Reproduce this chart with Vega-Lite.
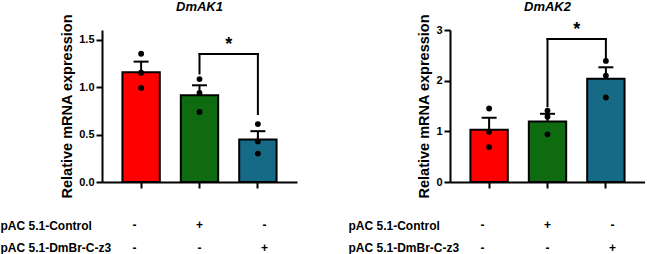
{
  "$schema": "https://vega.github.io/schema/vega-lite/v6.json",
  "padding": 0,
  "background": "white",
  "datasets": {
    "pts": [
      {"gene": "DmAK1", "g": "WT", "value": 1.35},
      {"gene": "DmAK1", "g": "WT", "value": 1.15},
      {"gene": "DmAK1", "g": "WT", "value": 0.99},
      {"gene": "DmAK1", "g": "Ctrl", "value": 1.083},
      {"gene": "DmAK1", "g": "Ctrl", "value": 0.939},
      {"gene": "DmAK1", "g": "Ctrl", "value": 0.738},
      {"gene": "DmAK1", "g": "DmBr", "value": 0.61},
      {"gene": "DmAK1", "g": "DmBr", "value": 0.427},
      {"gene": "DmAK1", "g": "DmBr", "value": 0.299},
      {"gene": "DmAK2", "g": "WT", "value": 1.45},
      {"gene": "DmAK2", "g": "WT", "value": 0.99},
      {"gene": "DmAK2", "g": "WT", "value": 0.69},
      {"gene": "DmAK2", "g": "Ctrl", "value": 1.41},
      {"gene": "DmAK2", "g": "Ctrl", "value": 1.29},
      {"gene": "DmAK2", "g": "Ctrl", "value": 0.94},
      {"gene": "DmAK2", "g": "DmBr", "value": 2.39},
      {"gene": "DmAK2", "g": "DmBr", "value": 2.1},
      {"gene": "DmAK2", "g": "DmBr", "value": 1.667}
    ],
    "bars": [
      {"gene": "DmAK1", "g": "WT", "mean": 1.155, "upper": 1.267},
      {"gene": "DmAK1", "g": "Ctrl", "mean": 0.912, "upper": 1.018},
      {"gene": "DmAK1", "g": "DmBr", "mean": 0.447, "upper": 0.535},
      {"gene": "DmAK2", "g": "WT", "mean": 1.03, "upper": 1.268},
      {"gene": "DmAK2", "g": "Ctrl", "mean": 1.195, "upper": 1.346},
      {"gene": "DmAK2", "g": "DmBr", "mean": 2.04, "upper": 2.264}
    ],
    "sig": [
      {"gene": "DmAK1", "from": "Ctrl", "to": "DmBr", "top": 1.348, "b1": 1.142, "b2": 0.716, "label": "*"},
      {"gene": "DmAK2", "from": "Ctrl", "to": "DmBr", "top": 2.82, "b1": 1.496, "b2": 2.395, "label": "*"}
    ],
    "table": [
      {"row": "pAC 5.1-Control", "g": "WT", "s": "-"},
      {"row": "pAC 5.1-Control", "g": "Ctrl", "s": "+"},
      {"row": "pAC 5.1-Control", "g": "DmBr", "s": "-"},
      {"row": "pAC 5.1-DmBr-C-z3", "g": "WT", "s": "-"},
      {"row": "pAC 5.1-DmBr-C-z3", "g": "Ctrl", "s": "-"},
      {"row": "pAC 5.1-DmBr-C-z3", "g": "DmBr", "s": "+"}
    ]
  },
  "spacing": 51,
  "hconcat": [
    {
      "spacing": 20,
      "vconcat": [
        {
          "width": 195,
          "height": 152,
          "title": {"text": "DmAK1", "fontStyle": "italic", "fontWeight": "bold", "fontSize": 13, "frame": "group", "anchor": "middle", "offset": 0, "color": "black"},
          "layer": [
            {
              "data": {"name": "bars"},
              "transform": [{"filter": "datum.gene === 'DmAK1'"}],
              "mark": {"type": "bar", "stroke": "black", "strokeWidth": 2, "opacity": 1},
              "encoding": {
                "x": {"field": "g", "type": "nominal", "scale": {"domain": ["WT", "Ctrl", "DmBr"], "paddingInner": 0.36, "paddingOuter": 0.35}, "axis": {"labels": false, "title": null}},
                "y": {"field": "mean", "type": "quantitative", "title": "Relative mRNA expression", "scale": {"domain": [0, 1.5]}, "axis": {"values": [0, 0.5, 1, 1.5], "format": ".1f"}},
                "color": {"field": "g", "type": "nominal", "scale": {"domain": ["WT", "Ctrl", "DmBr"], "range": ["#ff0000", "#0f6b0f", "#166a86"]}, "legend": null}
              }
            },
            {
              "data": {"name": "bars"},
              "transform": [{"filter": "datum.gene === 'DmAK1'"}],
              "mark": {"type": "rule", "strokeWidth": 2, "color": "black"},
              "encoding": {
                "x": {"field": "g", "type": "nominal"},
                "y": {"field": "mean", "type": "quantitative", "title": "Relative mRNA expression"},
                "y2": {"field": "upper"}
              }
            },
            {
              "data": {"name": "bars"},
              "transform": [{"filter": "datum.gene === 'DmAK1'"}],
              "mark": {"type": "tick", "orient": "horizontal", "thickness": 2, "size": 15, "color": "black", "opacity": 1},
              "encoding": {
                "x": {"field": "g", "type": "nominal"},
                "y": {"field": "upper", "type": "quantitative", "title": "Relative mRNA expression"}
              }
            },
            {
              "data": {"name": "pts"},
              "transform": [{"filter": "datum.gene === 'DmAK1'"}],
              "mark": {"type": "circle", "size": 34, "color": "black", "opacity": 1},
              "encoding": {
                "x": {"field": "g", "type": "nominal"},
                "y": {"field": "value", "type": "quantitative", "title": "Relative mRNA expression"}
              }
            },
            {
              "data": {"name": "sig"},
              "transform": [{"filter": "datum.gene === 'DmAK1'"}],
              "mark": {"type": "rule", "strokeWidth": 2, "color": "black", "strokeCap": "square"},
              "encoding": {
                "x": {"field": "from", "type": "nominal"},
                "y": {"field": "top", "type": "quantitative", "title": "Relative mRNA expression"},
                "y2": {"field": "b1"}
              }
            },
            {
              "data": {"name": "sig"},
              "transform": [{"filter": "datum.gene === 'DmAK1'"}],
              "mark": {"type": "rule", "strokeWidth": 2, "color": "black", "strokeCap": "square"},
              "encoding": {
                "x": {"field": "to", "type": "nominal"},
                "y": {"field": "top", "type": "quantitative", "title": "Relative mRNA expression"},
                "y2": {"field": "b2"}
              }
            },
            {
              "data": {"name": "sig"},
              "transform": [{"filter": "datum.gene === 'DmAK1'"}],
              "mark": {"type": "rule", "strokeWidth": 2, "color": "black", "strokeCap": "square"},
              "encoding": {
                "x": {"field": "from", "type": "nominal"},
                "x2": {"field": "to"},
                "y": {"field": "top", "type": "quantitative", "title": "Relative mRNA expression"}
              }
            },
            {
              "data": {"name": "sig"},
              "transform": [{"filter": "datum.gene === 'DmAK1'"}],
              "mark": {"type": "text", "fontSize": 18, "fontWeight": "bold", "baseline": "bottom", "align": "center", "color": "black"},
              "encoding": {
                "x": {"field": "from", "type": "nominal", "bandPosition": 1.28},
                "y": {"field": "top", "type": "quantitative", "title": "Relative mRNA expression"},
                "text": {"field": "label"}
              }
            }
          ]
        },
        {
          "width": 195,
          "height": 22.5,
          "data": {"name": "table"},
          "mark": {"type": "text", "fontWeight": "bold", "fontSize": 12, "color": "black"},
          "encoding": {
            "x": {"field": "g", "type": "nominal", "scale": {"domain": ["WT", "Ctrl", "DmBr"], "paddingInner": 0.36, "paddingOuter": 0.35}, "axis": null},
            "y": {"field": "row", "type": "nominal", "scale": {"type": "point", "padding": 0, "domain": ["pAC 5.1-Control", "pAC 5.1-DmBr-C-z3"]}, "axis": {"domain": false, "ticks": false, "tickSize": 0, "labelAlign": "left", "labelPadding": 102, "labelFontSize": 12, "labelFontWeight": "bold", "labelBaseline": "middle", "title": null}},
            "text": {"field": "s"}
          }
        }
      ]
    },
    {
      "spacing": 20,
      "vconcat": [
        {
          "width": 195,
          "height": 152,
          "title": {"text": "DmAK2", "fontStyle": "italic", "fontWeight": "bold", "fontSize": 13, "frame": "group", "anchor": "middle", "offset": 0, "color": "black"},
          "layer": [
            {
              "data": {"name": "bars"},
              "transform": [{"filter": "datum.gene === 'DmAK2'"}],
              "mark": {"type": "bar", "stroke": "black", "strokeWidth": 2, "opacity": 1},
              "encoding": {
                "x": {"field": "g", "type": "nominal", "scale": {"domain": ["WT", "Ctrl", "DmBr"], "paddingInner": 0.36, "paddingOuter": 0.35}, "axis": {"labels": false, "title": null}},
                "y": {"field": "mean", "type": "quantitative", "title": "Relative mRNA expression", "scale": {"domain": [0, 3]}, "axis": {"values": [0, 1, 2, 3], "format": "d"}},
                "color": {"field": "g", "type": "nominal", "scale": {"domain": ["WT", "Ctrl", "DmBr"], "range": ["#ff0000", "#0f6b0f", "#166a86"]}, "legend": null}
              }
            },
            {
              "data": {"name": "bars"},
              "transform": [{"filter": "datum.gene === 'DmAK2'"}],
              "mark": {"type": "rule", "strokeWidth": 2, "color": "black"},
              "encoding": {
                "x": {"field": "g", "type": "nominal"},
                "y": {"field": "mean", "type": "quantitative", "title": "Relative mRNA expression"},
                "y2": {"field": "upper"}
              }
            },
            {
              "data": {"name": "bars"},
              "transform": [{"filter": "datum.gene === 'DmAK2'"}],
              "mark": {"type": "tick", "orient": "horizontal", "thickness": 2, "size": 15, "color": "black", "opacity": 1},
              "encoding": {
                "x": {"field": "g", "type": "nominal"},
                "y": {"field": "upper", "type": "quantitative", "title": "Relative mRNA expression"}
              }
            },
            {
              "data": {"name": "pts"},
              "transform": [{"filter": "datum.gene === 'DmAK2'"}],
              "mark": {"type": "circle", "size": 34, "color": "black", "opacity": 1},
              "encoding": {
                "x": {"field": "g", "type": "nominal"},
                "y": {"field": "value", "type": "quantitative", "title": "Relative mRNA expression"}
              }
            },
            {
              "data": {"name": "sig"},
              "transform": [{"filter": "datum.gene === 'DmAK2'"}],
              "mark": {"type": "rule", "strokeWidth": 2, "color": "black", "strokeCap": "square"},
              "encoding": {
                "x": {"field": "from", "type": "nominal"},
                "y": {"field": "top", "type": "quantitative", "title": "Relative mRNA expression"},
                "y2": {"field": "b1"}
              }
            },
            {
              "data": {"name": "sig"},
              "transform": [{"filter": "datum.gene === 'DmAK2'"}],
              "mark": {"type": "rule", "strokeWidth": 2, "color": "black", "strokeCap": "square"},
              "encoding": {
                "x": {"field": "to", "type": "nominal"},
                "y": {"field": "top", "type": "quantitative", "title": "Relative mRNA expression"},
                "y2": {"field": "b2"}
              }
            },
            {
              "data": {"name": "sig"},
              "transform": [{"filter": "datum.gene === 'DmAK2'"}],
              "mark": {"type": "rule", "strokeWidth": 2, "color": "black", "strokeCap": "square"},
              "encoding": {
                "x": {"field": "from", "type": "nominal"},
                "x2": {"field": "to"},
                "y": {"field": "top", "type": "quantitative", "title": "Relative mRNA expression"}
              }
            },
            {
              "data": {"name": "sig"},
              "transform": [{"filter": "datum.gene === 'DmAK2'"}],
              "mark": {"type": "text", "fontSize": 18, "fontWeight": "bold", "baseline": "bottom", "align": "center", "color": "black"},
              "encoding": {
                "x": {"field": "from", "type": "nominal", "bandPosition": 1.28},
                "y": {"field": "top", "type": "quantitative", "title": "Relative mRNA expression"},
                "text": {"field": "label"}
              }
            }
          ]
        },
        {
          "width": 195,
          "height": 22.5,
          "data": {"name": "table"},
          "mark": {"type": "text", "fontWeight": "bold", "fontSize": 12, "color": "black"},
          "encoding": {
            "x": {"field": "g", "type": "nominal", "scale": {"domain": ["WT", "Ctrl", "DmBr"], "paddingInner": 0.36, "paddingOuter": 0.35}, "axis": null},
            "y": {"field": "row", "type": "nominal", "scale": {"type": "point", "padding": 0, "domain": ["pAC 5.1-Control", "pAC 5.1-DmBr-C-z3"]}, "axis": {"domain": false, "ticks": false, "tickSize": 0, "labelAlign": "left", "labelPadding": 102, "labelFontSize": 12, "labelFontWeight": "bold", "labelBaseline": "middle", "title": null}},
            "text": {"field": "s"}
          }
        }
      ]
    }
  ],
  "config": {
    "view": {"stroke": null},
    "font": "Liberation Sans",
    "axis": {
      "domainColor": "black",
      "domainWidth": 2,
      "tickColor": "black",
      "tickWidth": 2,
      "tickSize": 6,
      "labelFontWeight": "bold",
      "labelFontSize": 11,
      "labelColor": "black",
      "labelPadding": 2,
      "grid": false,
      "titleFontWeight": "bold",
      "titleFontSize": 14.5,
      "titleColor": "black",
      "titlePadding": 4
    }
  }
}
